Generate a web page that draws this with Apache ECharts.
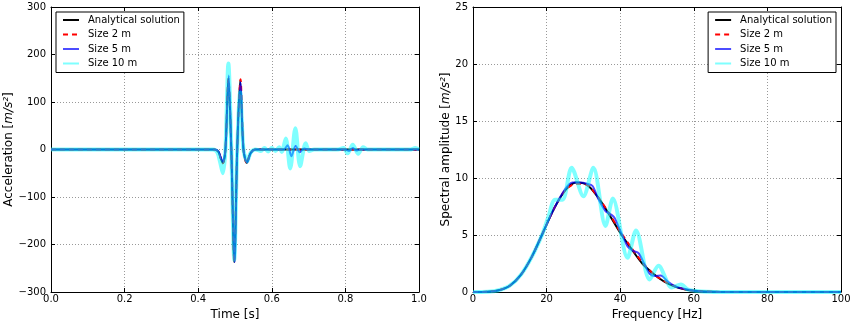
<!DOCTYPE html>
<html>
<head>
<meta charset="utf-8">
<title>Acceleration and spectrum</title>
<script src="https://cdn.jsdelivr.net/npm/echarts@6/dist/echarts.min.js"></script>
<style>
  html, body { margin: 0; padding: 0; background: #fff; }
  #chart { width: 851px; height: 323px; }
</style>
</head>
<body>
<div id="chart"></div>
<script>
// series names (legend)
const seriesNames = ["Analytical solution", "Size 2 m", "Size 5 m", "Size 10 m"];

// left panel: time [s] / acceleration [m/s2]
const timeAnalytical = [0, 0.445, 0.455, 0.461, 0.467, 0.474, 0.482, 0.490, 0.498, 0.506, 0.514, 0.523, 0.532, 0.542, 0.555, 1.0];
const accAnalytical = [0, 0, -5, -18, -29, 0, 150, 0, -237, 0, 145, 0, -28, -8, 0, 0];

const time2m = [0, 0.445, 0.455, 0.461, 0.467, 0.474, 0.482, 0.490, 0.498, 0.506, 0.515, 0.523, 0.532, 0.542, 0.555, 1.0];
const acc2m = [0, 0, -5, -18, -29, 0, 149, 0, -237, 0, 148, 0, -29, -8, 0, 0];

const time5m = [0, 0.445, 0.455, 0.461, 0.467, 0.474, 0.483, 0.490, 0.499, 0.506, 0.515, 0.523, 0.533, 0.543, 0.556, 0.632, 0.643, 0.653, 0.665, 0.676, 0.688, 0.70, 0.80, 0.81, 0.82, 0.83, 0.84, 1.0];
const acc5m = [0, 0, -4, -16, -26, 0, 156, 0, -237, 0, 142, 0, -27, -7, 0, 0, 9, -14, 8, -6, 2, 0, 0, -3, 3, -2, 0, 0];

const time10m = [0, 0.44, 0.452, 0.46, 0.467, 0.474, 0.482, 0.490, 0.498, 0.506, 0.514, 0.523, 0.533, 0.543, 0.556, 0.57, 0.58, 0.59, 0.60, 0.61, 0.62, 0.627, 0.638, 0.650, 0.664, 0.677, 0.692, 0.702, 0.715, 0.78, 0.795, 0.806, 0.82, 0.835, 0.848, 0.86, 0.975, 0.99, 1.0];
const acc10m = [0, 0, -6, -28, -50, 0, 181, 0, -232, 0, 120, 0, -25, -6, 0, -3, 3, -4, 3, -3, 5, -5, 23, -40, 45, -35, 13, -3, 0, 0, 3, -8, 10, -9, 5, 0, 0, 3, 0];

// right panel: frequency [Hz] / spectral amplitude [m/s2]
const freqAnalytical = [0, 4, 7, 10, 13, 16, 19, 22, 25, 28, 31, 34, 37, 40, 43, 46, 49, 52, 55, 58, 61, 65, 70, 100];
const specAnalytical = [0, 0.02, 0.15, 0.55, 1.5, 3.1, 5.2, 7.3, 8.9, 9.6, 9.4, 8.3, 6.8, 5.2, 3.8, 2.5, 1.6, 0.9, 0.45, 0.2, 0.08, 0.02, 0, 0];

const freq2m = [0, 4, 7, 10, 13, 16, 19, 22, 25, 28, 31, 34, 37, 40, 43, 46, 49, 52, 55, 58, 61, 65, 70, 100];
const spec2m = [0, 0.02, 0.15, 0.55, 1.5, 3.1, 5.2, 7.3, 8.9, 9.5, 9.4, 8.3, 6.9, 5.3, 3.9, 2.6, 1.6, 0.95, 0.5, 0.22, 0.08, 0.02, 0, 0];

const freq5m = [0, 4, 7, 10, 13, 16, 19, 22, 25, 27, 29, 31, 32.5, 34, 36, 37.5, 38.5, 40, 42, 43.5, 45, 46.5, 48, 49.5, 51, 53, 55, 57, 60, 65, 70, 100];
const spec5m = [0, 0.02, 0.15, 0.55, 1.5, 3.1, 5.2, 7.3, 9.0, 9.6, 9.6, 9.5, 9.3, 8.2, 7.1, 6.8, 6.5, 5.4, 4.0, 3.6, 3.4, 2.5, 1.6, 1.4, 1.45, 0.9, 0.5, 0.3, 0.12, 0.02, 0, 0];

const freq10m = [0, 4, 7, 10, 13, 16, 19, 20.5, 22.3, 24.3, 26.8, 30, 32.7, 36, 38, 42, 44.3, 48, 50.4, 54, 56.5, 58.5, 62, 70, 100];
const spec10m = [0, 0.02, 0.15, 0.55, 1.5, 3.1, 5.2, 6.6, 8.1, 8.1, 10.9, 8.4, 10.9, 5.8, 8.2, 3.0, 5.4, 1.1, 2.3, 0.4, 0.65, 0.2, 0.05, 0, 0];

// tick settings
const timeTicks = { min: 0, max: 1, interval: 0.2 };
const accTicks = { min: -300, max: 300, interval: 100 };
const freqTicks = { min: 0, max: 100, interval: 20 };
const specTicks = { min: 0, max: 25, interval: 5 };

const font = "DejaVu Sans";
const zip = (xs, ys) => xs.map((x, i) => [x, ys[i]]);
const minus = v => String(v).replace("-", "\u2212");

// line styles for the four series
const styles = [
  { color: "#000000", width: 2, type: "solid" },
  { color: "#ff0000", width: 2, type: [5, 4] },
  { color: "rgba(0,0,255,0.7)", width: 2, type: "solid" },
  { color: "rgba(0,255,255,0.5)", width: 4, type: "solid" }
];

const chart = echarts.init(document.getElementById("chart"), null, { renderer: "canvas" });

// main axis (labels, grid) + mirror axis (ticks only, for the top/right frame)
function mainAxis(pos, gridIndex, t, fmt, name, nameGap) {
  return {
    type: "value", gridIndex, position: pos,
    min: t.min, max: t.max, interval: t.interval,
    name, nameLocation: "middle", nameGap,
    nameTextStyle: { fontFamily: font, fontSize: 12, color: "#000", rich: { i: { fontFamily: font, fontSize: 12, fontStyle: "italic", color: "#000" } } },
    axisLine: { show: true, onZero: false, lineStyle: { color: "#000", width: 1 } },
    axisTick: { show: true, inside: true, length: 4, lineStyle: { color: "#000" } },
    axisLabel: { fontFamily: font, fontSize: 10, color: "#000", margin: pos === "left" ? 5 : 2, formatter: fmt },
    splitLine: { show: true, lineStyle: { color: "#999", type: [1, 2], width: 1 } }
  };
}
function mirrorAxis(pos, gridIndex, t) {
  return {
    type: "value", gridIndex, position: pos,
    min: t.min, max: t.max, interval: t.interval,
    axisLine: { show: true, onZero: false, lineStyle: { color: "#000", width: 1 } },
    axisTick: { show: true, inside: true, length: 4, lineStyle: { color: "#000" } },
    axisLabel: { show: false },
    splitLine: { show: false }
  };
}

function lineSeries(i, xi, data) {
  return {
    name: seriesNames[i],
    type: "line",
    xAxisIndex: xi,
    yAxisIndex: xi,
    data,
    smooth: 0.3,
    showSymbol: false,
    symbol: "none",
    lineStyle: styles[i],
    itemStyle: { color: styles[i].color },
    emphasis: { disabled: true },
    z: 2 + i
  };
}

function legendBox(pos) {
  return Object.assign({
    data: seriesNames,
    orient: "vertical",
    top: 12,
    itemWidth: 16,
    itemHeight: 10,
    itemGap: 4.5,
    padding: [3, 4, 4, 6],
    borderColor: "#000",
    borderWidth: 1,
    borderRadius: 0,
    backgroundColor: "#fff",
    selectedMode: false,
    itemStyle: { opacity: 0 },
    textStyle: { fontFamily: font, fontSize: 10, color: "#000", padding: [0, 0, 0, 4] }
  }, pos);
}

const option = {
  animation: false,
  backgroundColor: "#fff",
  grid: [
    { left: 51, right: 432, top: 7, bottom: 31, outerBoundsMode: "none", containLabel: false },
    { left: 473, right: 10, top: 7, bottom: 31, outerBoundsMode: "none", containLabel: false }
  ],
  xAxis: [
    mainAxis("bottom", 0, timeTicks, v => v.toFixed(1), "Time [s]", 13),
    mainAxis("bottom", 1, freqTicks, v => String(v), "Frequency [Hz]", 13),
    mirrorAxis("top", 0, timeTicks),
    mirrorAxis("top", 1, freqTicks)
  ],
  yAxis: [
    mainAxis("left", 0, accTicks, minus, "Acceleration [{i|m/s²}]", 35),
    mainAxis("left", 1, specTicks, minus, "Spectral amplitude [{i|m/s²}]", 21),
    mirrorAxis("right", 0, accTicks),
    mirrorAxis("right", 1, specTicks)
  ],
  legend: [legendBox({ left: 56 }), legendBox({ right: 15 })],
  series: [
    lineSeries(0, 0, zip(timeAnalytical, accAnalytical)),
    lineSeries(1, 0, zip(time2m, acc2m)),
    lineSeries(2, 0, zip(time5m, acc5m)),
    lineSeries(3, 0, zip(time10m, acc10m)),
    lineSeries(0, 1, zip(freqAnalytical, specAnalytical)),
    lineSeries(1, 1, zip(freq2m, spec2m)),
    lineSeries(2, 1, zip(freq5m, spec5m)),
    lineSeries(3, 1, zip(freq10m, spec10m))
  ]
};

chart.setOption(option);
</script>
</body>
</html>
